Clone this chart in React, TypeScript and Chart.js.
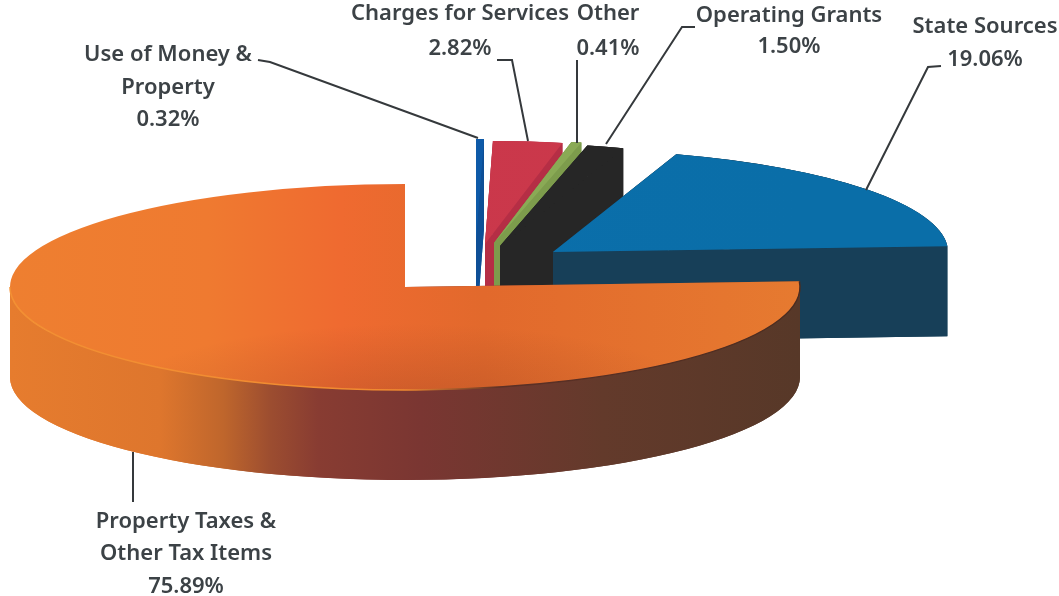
import React, { useEffect, useRef } from "react";
import Chart from "chart.js/auto";

// Data, in drawing order (back slices first, the large front slice last)
const categories = ["Use of Money & Property", "Charges for Services", "Other", "Operating Grants", "State Sources", "Property Taxes & Other Tax Items"];
const shares = [0.32, 2.82, 0.41, 1.5, 19.06, 75.89];
const labelNames = [
  ["Use of Money &", "Property"],
  ["Charges for Services"],
  ["Other"],
  ["Operating Grants"],
  ["State Sources"],
  ["Property Taxes &", "Other Tax Items"],
];

// Styling: exploded displacement of each slice and 3D look
const explodeX = [71, 80, 89, 95, 148, 0];
const explodeY = [-45, -43, -44, -41, -35, 0];
const sideColors = ["#0e4f96", "#b52e45", "#7d9c4c", "#262626", "#173f58", ""];
const topStops: [number, string][][] = [
  [[0, "#0e5aa8"], [1, "#0e5aa8"]],
  [[0, "#c8344c"], [1, "#cc3a4a"]],
  [[0, "#8aaa55"], [1, "#8aaa55"]],
  [[0, "#262626"], [1, "#262626"]],
  [[0, "#0b6fae"], [1, "#0a6ea8"]],
  [[0, "#ee7f30"], [0.25, "#ef7a30"], [0.42, "#ef6a30"], [0.6, "#e2692c"], [1, "#e67a30"]],
];
const orangeSideStops: [number, string][] = [
  [0, "#e67c2e"], [0.19, "#de762d"], [0.27, "#bf662c"], [0.33, "#9c4d30"], [0.39, "#883c32"], [0.52, "#7a3632"], [0.75, "#633a2b"], [1, "#573828"],
];
const seamStops: [number, string][] = [
  [0, "#f39033"], [0.5, "#f08a30"], [0.62, "#5c3026"], [1, "#4a2c20"],
];
const labelBoxes = [
  { x: 168, ys: [55, 88, 120] },
  { x: 460, ys: [14, 49] },
  { x: 608, ys: [14, 49] },
  { x: 789, ys: [16, 47] },
  { x: 985, ys: [27, 60] },
  { x: 186, ys: [522, 554, 587] },
];
const leaders = [
  [[258, 60], [270, 62], [478, 138]],
  [[497, 60], [512, 60], [528, 141]],
  [[577, 60], [577, 143]],
  [[695, 27], [682, 27], [606, 144]],
  [[941, 66], [928, 67], [866, 190]],
  [[133, 452], [133, 502]],
];
const PIE_X = 405;
const PIE_Y = 287;
const RADIUS = 395;
const TILT = 103 / 395;
const DEPTH = 90;

const hGrad = (ctx: CanvasRenderingContext2D, x0: number, x1: number, stops: [number, string][]) => {
  const g = ctx.createLinearGradient(x0, 0, x1, 0);
  stops.forEach(([o, c]) => g.addColorStop(o, c));
  return g;
};

const fillSector = (ctx: CanvasRenderingContext2D, x: number, y: number, r: number, a0: number, a1: number) => {
  ctx.beginPath();
  ctx.moveTo(x, y);
  ctx.arc(x, y, r, a0, a1);
  ctx.closePath();
  ctx.fill();
};

// The extruded side of a slice, swept from its bottom face up to its top face.
const drawSide = (ctx: CanvasRenderingContext2D, arc: any, underTop: boolean) => {
  const { x, y, outerRadius: r, startAngle: a0, endAngle: a1 } = arc;
  const dy = DEPTH / TILT;
  fillSector(ctx, x, y + dy, r, a0, a1);
  // a wide slice only shows the near half of its rim
  const wide = a1 - a0 > Math.PI;
  const lo = wide ? Math.max(a0, 0) : a0;
  const hi = wide ? Math.min(a1, Math.PI) : a1;
  if (hi > lo) {
    ctx.beginPath();
    ctx.arc(x, y + dy, r, lo, hi);
    ctx.arc(x, y, r, hi, lo, true);
    ctx.closePath();
    ctx.fill();
  }
  [a0, a1].forEach((a) => {
    const ex = x + r * Math.cos(a);
    const ey = y + r * Math.sin(a);
    ctx.beginPath();
    ctx.moveTo(x, y);
    ctx.lineTo(ex, ey);
    ctx.lineTo(ex, ey + dy);
    ctx.lineTo(x, y + dy);
    ctx.closePath();
    ctx.fill();
  });
  if (underTop) fillSector(ctx, x, y, r, a0, a1);
};

const pie3d = {
  id: "pie3d",
  afterDatasetsUpdate(chart: any) {
    chart.getDatasetMeta(0).data.forEach((arc: any, i: number) => {
      arc.x = PIE_X + explodeX[i];
      arc.y = PIE_Y + explodeY[i] / TILT;
    });
  },
  beforeDatasetDraw(chart: any) {
    const ctx: CanvasRenderingContext2D = chart.ctx;
    const arcs = chart.getDatasetMeta(0).data;
    ctx.save();
    ctx.translate(0, PIE_Y);
    ctx.scale(1, TILT);
    ctx.translate(0, -PIE_Y);
    arcs.forEach((arc: any, i: number) => {
      ctx.fillStyle = sideColors[i] || hGrad(ctx, PIE_X - RADIUS, PIE_X + RADIUS, orangeSideStops);
      drawSide(ctx, arc, !!sideColors[i]);
      arc.draw(ctx);
    });
    const big = arcs[arcs.length - 1];
    // soft shading on the near part of the large slice's top face
    ctx.save();
    ctx.beginPath();
    ctx.moveTo(big.x, big.y);
    ctx.arc(big.x, big.y, big.outerRadius, big.startAngle, big.endAngle);
    ctx.closePath();
    ctx.clip();
    const shadeY = PIE_Y + 115 / TILT;
    const shade = ctx.createRadialGradient(410, shadeY, 0, 410, shadeY, 300);
    shade.addColorStop(0, "rgba(120,50,30,0.26)");
    shade.addColorStop(1, "rgba(120,50,30,0)");
    ctx.fillStyle = shade;
    ctx.fillRect(0, -4000, 1059, 8000);
    ctx.restore();
    ctx.beginPath();
    ctx.arc(big.x, big.y, big.outerRadius, big.startAngle, Math.PI);
    ctx.restore();
    ctx.save();
    ctx.lineWidth = 1.5;
    ctx.strokeStyle = hGrad(ctx, PIE_X - RADIUS, PIE_X + RADIUS, seamStops);
    ctx.stroke();
    ctx.restore();
    return false;
  },
  afterDraw(chart: any) {
    const ctx: CanvasRenderingContext2D = chart.ctx;
    ctx.save();
    ctx.strokeStyle = "#35393c";
    ctx.lineWidth = 2;
    leaders.forEach((pts) => {
      ctx.beginPath();
      pts.forEach(([x, y], k) => (k ? ctx.lineTo(x, y) : ctx.moveTo(x, y)));
      ctx.stroke();
    });
    ctx.fillStyle = "#3c4246";
    ctx.font = "600 22px 'Noto Sans'";
    ctx.textAlign = "center";
    ctx.textBaseline = "middle";
    labelBoxes.forEach((box, i) => {
      const lines = [...labelNames[i], shares[i].toFixed(2) + "%"];
      lines.forEach((t, k) => ctx.fillText(t, box.x, box.ys[k]));
    });
    ctx.restore();
  },
};

export default function App() {
  const ref = useRef<HTMLCanvasElement>(null);
  useEffect(() => {
    const chart = new Chart(ref.current!, {
      type: "pie",
      data: {
        labels: categories,
        datasets: [
          {
            data: shares,
            radius: RADIUS,
            borderWidth: 0,
            clip: false,
            backgroundColor: (c: any) => hGrad(c.chart.ctx, PIE_X - RADIUS, PIE_X + RADIUS, topStops[c.dataIndex]),
          } as any,
        ],
      },
      options: {
        responsive: false,
        animation: false,
        rotation: 0,
        events: [],
        plugins: { legend: { display: false }, tooltip: { enabled: false } },
      },
      plugins: [pie3d],
    } as any);
    return () => chart.destroy();
  }, []);
  return (
    <div style={{ position: "fixed", left: 0, top: 0, width: 1059, height: 596, background: "#fff" }}>
      <canvas ref={ref} width={1059} height={596} style={{ display: "block" }} />
    </div>
  );
}
